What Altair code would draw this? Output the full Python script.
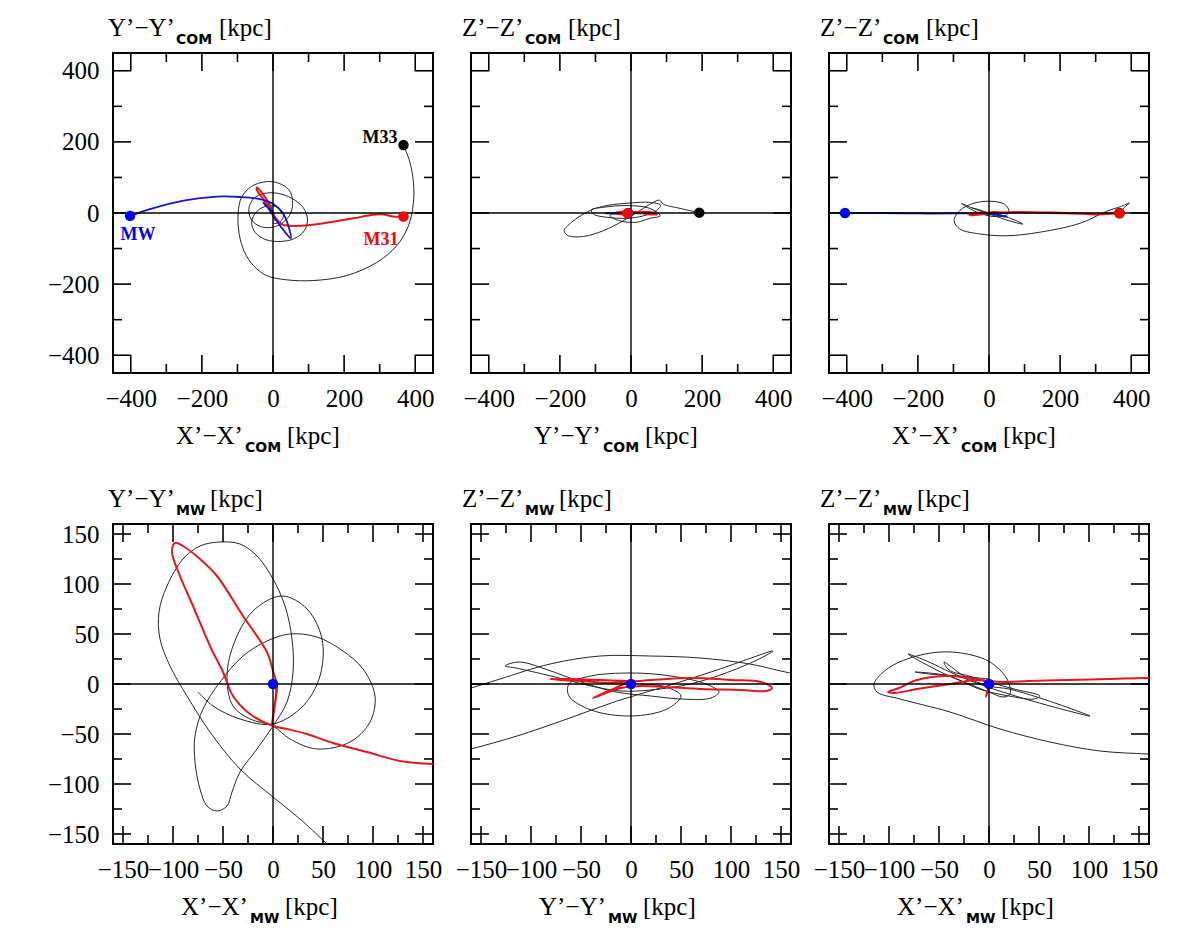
import altair as alt
import pandas as pd

# ---------------- data (kpc) ----------------
# Top row: positions relative to the centre of mass (COM)
P1_BLUE = [(-402, -8), (-346, 11), (-252, 35), (-158, 46), (-93, 45), (-37, 39), (1, 25), (29, -3),
           (43, -36), (50, -71), (34, -54), (10, -22), (-8, 6), (-27, 30), (-20, 20), (0, 5)]
P1_RED = [(367, -10), (338, -10), (310, -4), (282, -5), (226, -15), (160, -26), (104, -34), (48, -36),
          (24, -31), (6, -12), (-4, 6), (-27, 39), (-46, 66), (-45, 72), (-32, 58), (-8, 21), (3, -8),
          (5, -20), (0, -5)]
P1_BLACK = [(367, 191), (385, 143), (395, 86), (395, 30), (381, -36), (348, -92), (292, -139), (207, -176),
            (113, -190), (39, -188), (-18, -176), (-55, -148), (-80, -110), (-95, -60), (-98, 0), (-88, 45),
            (-60, 75), (-20, 88), (15, 84), (45, 65), (55, 35), (50, 0), (30, -25), (0, -40), (-35, -38),
            (-60, -20), (-68, 10), (-55, 40), (-25, 55), (15, 55), (55, 40), (85, 15), (97, -17), (88, -50),
            (60, -72), (20, -80), (-20, -75), (-50, -55), (-60, -25), (-45, 5), (-15, 20), (15, 15), (30, -5),
            (20, -25), (0, -30)]

P2_BLUE = [(-8, 0), (11, 1), (35, 2), (46, 2), (39, 1), (25, 0), (-3, -1), (-36, -2), (-71, -1), (-54, 0),
           (-22, 1), (6, 0), (30, -1)]
P2_RED = [(-10, -1), (10, 3), (40, -2), (72, -4), (60, 1), (30, 3), (0, 0), (-25, -4), (-40, 1), (-15, 4),
          (15, 1), (40, 0)]
P2_BLACK = [(192, 1), (138, 13), (91, 25), (80, 36), (63, 30), (25, 7), (-22, -22), (-78, -50), (-134, -66),
            (-176, -64), (-188, -50), (-167, -26), (-115, 7), (-68, 21), (-3, 28), (53, 30), (83, 22), (72, 7),
            (35, -8), (-12, -15), (-68, -12), (-106, -3), (-111, 9), (-78, 16), (-12, 21), (53, 13), (82, -8),
            (53, -15), (16, -26), (-31, -22), (-59, -8), (-40, 2), (-3, 4)]

P3_BLUE = [(-405, 0), (-300, 0), (-200, -1), (-100, -1), (-60, -1), (-30, -2), (0, -3), (20, -5), (40, -9),
           (50, -10), (30, -6), (10, -3), (-10, -1)]
P3_RED = [(367, -1), (330, -2), (300, -4), (275, -2), (200, 0), (143, 1), (80, 2), (40, 1), (12, 2), (0, 0),
          (-20, -3), (-44, -6), (-55, -5), (-40, -2), (-20, 1), (0, -1)]
P3_BLACK = [(367, 0), (385, 20), (395, 28), (370, 18), (331, 5), (256, -29), (143, -54), (50, -64), (-25, -59),
            (-82, -45), (-98, -22), (-82, 7), (-44, 27), (3, 33), (43, 25), (56, 7), (50, -5), (22, -10),
            (0, -8), (-40, 5), (-77, 27), (-50, 15), (0, -2), (50, -20), (95, -31), (78, -22), (30, -5), (0, 0),
            (-30, 10), (-50, 15)]

# Bottom row: positions relative to the Milky Way (MW)
P4_RED = [(160, -80), (127, -77), (94, -68), (60, -59), (34, -50), (14, -45), (0, -42), (-23, -30), (-40, -12),
          (-50, 12), (-63, 38), (-80, 78), (-93, 108), (-101, 132), (-98, 141), (-90, 138), (-73, 125),
          (-56, 108), (-30, 68), (-6, 32), (0, 13), (4, -2), (2, -20), (-1, -40), (1, -25), (3, -5), (0, 0)]
P4_BLACK = [(54, -160), (27, -135), (0, -113), (-33, -85), (-63, -48), (-86, -12), (-103, 18), (-113, 45),
            (-114, 72), (-106, 98), (-90, 125), (-73, 138), (-53, 142), (-33, 140), (-16, 128), (0, 105),
            (12, 78), (19, 45), (20, 12), (14, -18), (0, -42), (-16, -65), (-33, -88), (-41, -108), (-46, -122),
            (-56, -127), (-66, -122), (-73, -105), (-78, -78), (-78, -52), (-70, -25), (-53, 2), (-30, 28),
            (-6, 43), (17, 50), (44, 47), (70, 33), (90, 15), (102, -12), (97, -38), (77, -58), (44, -65),
            (17, -55), (0, -42), (-23, -35), (-40, -22), (-46, 5), (-40, 38), (-20, 73), (9, 88), (34, 75),
            (49, 45), (47, 8), (30, -22), (0, -40), (-33, -35), (-60, -22), (-75, -8)]

P5_RED = [(-2, 3), (-30, 4), (-60, 5), (-81, 5), (-70, 4), (-50, 3), (-20, 1), (20, 4), (60, 6), (100, 4),
          (130, 2), (141, -4), (135, -7), (110, -6), (70, -5), (35, -3), (10, -2), (-10, -4), (-25, -9),
          (-38, -14), (-20, -6), (0, 2), (5, 0)]
P5_BLACK = [(200, 5), (159, 11), (119, 20), (69, 26), (19, 28), (-31, 28), (-81, 20), (-131, 5), (-160, -4),
            (-200, -15), (-220, -40), (-200, -75), (-160, -65), (-114, -52), (-64, -35), (-14, -17), (36, -2),
            (86, 14), (142, 33), (126, 24), (92, 10), (59, 0), (20, -6), (-10, -7), (-40, -2), (-80, 8),
            (-115, 16), (-126, 18), (-112, 22), (-80, 13), (-50, 2), (-15, -8), (20, -12), (50, -15), (80, -14),
            (88, -8), (75, 0), (40, 8), (0, 11), (-40, 8), (-62, 0), (-62, -12), (-40, -26), (0, -32), (36, -25),
            (50, -12), (35, -3), (10, 0)]

P6_RED = [(160, 6), (120, 5), (80, 4), (40, 3), (15, 2), (0, 3), (-20, 6), (-40, 8), (-72, 4), (-90, -4),
          (-101, -8), (-95, -9), (-72, -5), (-39, 0), (-10, 4), (0, 0), (-2, -8), (-3, -13), (0, -3)]
P6_BLACK = [(200, -72), (159, -70), (111, -67), (61, -58), (11, -45), (-39, -28), (-89, -15), (-112, -8),
            (-115, 0), (-102, 15), (-79, 26), (-49, 32), (-22, 30), (1, 22), (18, 5), (21, -10), (14, -13),
            (0, -8), (-20, 0), (-40, 8), (-60, 18), (-81, 30), (-60, 22), (-39, 12), (-10, 0), (20, -10),
            (61, -22), (101, -32), (91, -28), (51, -14), (20, -5), (0, -2), (-25, 8), (-45, 22), (-40, 14),
            (-20, 8), (0, 2), (25, -5), (51, -12), (45, -15), (20, -12), (-10, -5), (-40, 8), (-74, 12),
            (-60, 10), (-30, 8), (0, 5)]

# present-day positions of the galaxies (x, y, colour)
P1_DOTS = [(-402, -8, "blue"), (367, -10, "red"), (367, 191, "black")]
P2_DOTS = [(192, 1, "black"), (-8, 0, "blue"), (-10, -1, "red")]
P3_DOTS = [(367, 0, "black"), (-405, 0, "blue"), (367, -1, "red")]
MW_DOT = [(0, 0, "blue")]

P1_NAMES = [(-380, -62, "MW", "blue"), (304, -76, "M31", "red"), (301, 211, "M33", "black")]

COM_RANGE = [-450, 450]
COM_MAJOR = [-400, -200, 0, 200, 400]
COM_MINOR = [-300, -100, 100, 300]
MW_RANGE = [-160, 160]
MW_MAJOR = [-150, -100, -50, 0, 50, 100, 150]
MW_MINOR = [-125, -75, -25, 25, 75, 125]

# ---------------- styling ----------------
SERIF = "Liberation Serif"
SUBFONT = "DejaVu Sans"
TICKFS = 25
TITLEFS = 25
SUBFS = 14
LINE_COLORS = {"black": "#262626", "red": "#e3171c", "blue": "#1515d0"}
DOT_COLORS = {"black": "#000000", "red": "#ff0000", "blue": "#0000ff"}
W = 320
MAJ, MIN = 18, 9
# pixel offsets of the title pieces: (main x, subscript x, unit x)
TOP_POS = {("Y", "COM"): (-5, 63, 106), ("Z", "COM"): (-9, 54, 97),
           ("Y", "MW"): (-5, 63, 97), ("Z", "MW"): (-9, 54, 88)}
BOTTOM_POS = {"COM": (63, 132, 174), "MW": (68, 137, 172)}


def curve_df(pts):
    return pd.DataFrame({"x": [p[0] for p in pts], "y": [p[1] for p in pts], "o": list(range(len(pts)))})


def panel(rng, major, minor, curves, dots, ylabels, ytitle, xtitle, names=None):
    sx = alt.Scale(domain=rng, nice=False, zero=False)
    sy = alt.Scale(domain=rng, nice=False, zero=False)
    xax = alt.Axis(values=major, ticks=False, domain=False, grid=False, title=None, labelFont=SERIF,
                   labelFontSize=TICKFS, labelColor="black", labelPadding=13, labelOverlap=False,
                   labelFlush=False, labelBound=False)
    if ylabels:
        yax = alt.Axis(values=major, ticks=False, domain=False, grid=False, title=None, labelFont=SERIF,
                       labelFontSize=TICKFS, labelColor="black", labelPadding=14, labelOverlap=False,
                       labelFlush=False, labelBound=False)
    else:
        yax = None
    X = lambda f: alt.X(f, scale=sx, axis=xax)
    Y = lambda f: alt.Y(f, scale=sy, axis=yax)

    layers = []
    for pts, col, sw in curves:
        layers.append(alt.Chart(curve_df(pts))
                      .mark_line(color=LINE_COLORS[col], strokeWidth=sw, clip=True, interpolate="catmull-rom")
                      .encode(x=X("x:Q"), y=Y("y:Q"), order="o:Q"))
    zero = pd.DataFrame({"v": [0]})
    layers.append(alt.Chart(zero).mark_rule(color="black", strokeWidth=1.4).encode(x=X("v:Q")))
    layers.append(alt.Chart(zero).mark_rule(color="black", strokeWidth=1.4).encode(y=Y("v:Q")))
    for vals, L in [(major, MAJ), (minor, MIN)]:
        tdf = pd.DataFrame({"v": vals})
        tick = dict(color="black", strokeWidth=1.6)
        layers.append(alt.Chart(tdf).mark_rule(**tick).encode(x=X("v:Q"), y=alt.value(W - L), y2=alt.value(W)))
        layers.append(alt.Chart(tdf).mark_rule(**tick).encode(x=X("v:Q"), y=alt.value(0), y2=alt.value(L)))
        layers.append(alt.Chart(tdf).mark_rule(**tick).encode(y=Y("v:Q"), x=alt.value(0), x2=alt.value(L)))
        layers.append(alt.Chart(tdf).mark_rule(**tick).encode(y=Y("v:Q"), x=alt.value(W - L), x2=alt.value(W)))
    ddf = pd.DataFrame({"x": [d[0] for d in dots], "y": [d[1] for d in dots],
                        "c": [DOT_COLORS[d[2]] for d in dots], "o": list(range(len(dots)))})
    layers.append(alt.Chart(ddf).mark_circle(size=110, opacity=1)
                  .encode(x=X("x:Q"), y=Y("y:Q"), color=alt.Color("c:N", scale=None), order="o:Q"))
    if names:
        ndf = pd.DataFrame({"x": [n[0] for n in names], "y": [n[1] for n in names],
                            "t": [n[2] for n in names], "c": [DOT_COLORS[n[3]] for n in names]})
        layers.append(alt.Chart(ndf).mark_text(font=SERIF, fontSize=18, fontWeight="bold")
                      .encode(x=X("x:Q"), y=Y("y:Q"), text="t:N", color=alt.Color("c:N", scale=None)))
    ym, ys = ytitle
    xm, xs = xtitle
    a, b, c = TOP_POS[(ym[0], ys)]
    d, e, f = BOTTOM_POS[xs]
    pieces = [(ym, a, -17, "m"), (ys, b, -9, "s"), ("[kpc]", c, -17, "m"),
              (xm, d, W + 71, "m"), (xs, e, W + 79, "s"), ("[kpc]", f, W + 71, "m")]
    for t, px, py, k in pieces:
        font, fs, fw = (SERIF, TITLEFS, "normal") if k == "m" else (SUBFONT, SUBFS, "bold")
        layers.append(alt.Chart(zero).mark_text(text=t, font=font, fontSize=fs, fontWeight=fw, color="black",
                                                align="left", baseline="alphabetic")
                      .encode(x=alt.value(px), y=alt.value(py)))
    return alt.layer(*layers).properties(width=W, height=W)


p1 = panel(COM_RANGE, COM_MAJOR, COM_MINOR,
           [(P1_BLACK, "black", 1.0), (P1_RED, "red", 2.0), (P1_BLUE, "blue", 1.8)],
           P1_DOTS, True, ("Y’−Y’", "COM"), ("X’−X’", "COM"), names=P1_NAMES)
p2 = panel(COM_RANGE, COM_MAJOR, COM_MINOR,
           [(P2_BLACK, "black", 1.0), (P2_BLUE, "blue", 2.0), (P2_RED, "red", 2.4)],
           P2_DOTS, False, ("Z’−Z’", "COM"), ("Y’−Y’", "COM"))
p3 = panel(COM_RANGE, COM_MAJOR, COM_MINOR,
           [(P3_BLACK, "black", 1.0), (P3_BLUE, "blue", 2.0), (P3_RED, "red", 2.4)],
           P3_DOTS, False, ("Z’−Z’", "COM"), ("X’−X’", "COM"))
p4 = panel(MW_RANGE, MW_MAJOR, MW_MINOR,
           [(P4_BLACK, "black", 1.0), (P4_RED, "red", 2.0)],
           MW_DOT, True, ("Y’−Y’", "MW"), ("X’−X’", "MW"))
p5 = panel(MW_RANGE, MW_MAJOR, MW_MINOR,
           [(P5_BLACK, "black", 1.0), (P5_RED, "red", 2.0)],
           MW_DOT, False, ("Z’−Z’", "MW"), ("Y’−Y’", "MW"))
p6 = panel(MW_RANGE, MW_MAJOR, MW_MINOR,
           [(P6_BLACK, "black", 1.0), (P6_RED, "red", 2.0)],
           MW_DOT, False, ("Z’−Z’", "MW"), ("X’−X’", "MW"))

chart = (alt.concat(p1, p2, p3, p4, p5, p6, columns=3, spacing={"row": 151, "column": 38}, bounds="flush")
         .properties(padding={"left": 38, "top": 7, "right": 5, "bottom": 5}, background="white")
         .configure_view(stroke="black", strokeWidth=2))

chart.save("out.html", embed_options={"renderer": "svg", "actions": False})
